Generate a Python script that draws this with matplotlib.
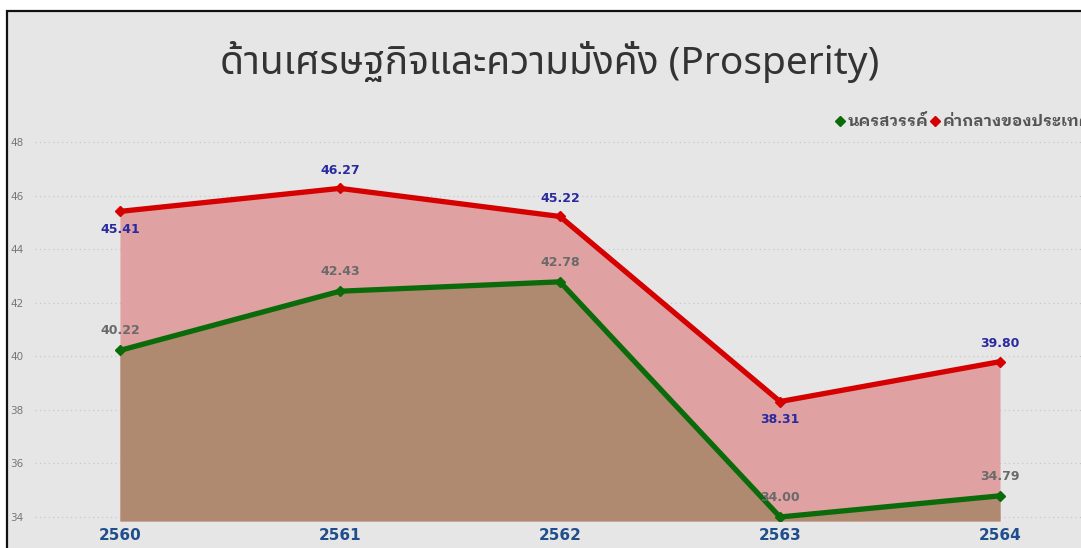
import matplotlib
matplotlib.use('Agg')
import matplotlib.pyplot as plt
from matplotlib.patches import Rectangle
from matplotlib.lines import Line2D

# data
years = ['2560', '2561', '2562', '2563', '2564']
nakhon_sawan = [40.22, 42.43, 42.78, 34.00, 34.79]
national_avg = [45.41, 46.27, 45.22, 38.31, 39.80]
# label above (+1) or below (-1) the point
nat_label_side = [-1, 1, 1, -1, 1]
ns_label_side = [1, 1, 1, 1, 1]
y_ticks = [34, 36, 38, 40, 42, 44, 46, 48]

title = 'ด้านเศรษฐกิจและความมั่งคั่ง (Prosperity)'
legend_labels = ['นครสวรรค์', 'ค่ากลางของประเทศ']

thai_title = ['Noto Sans Thai', 'Noto Sans', 'DejaVu Sans']
thai_small = ['IBM Plex Sans Thai Looped', 'Noto Sans', 'DejaVu Sans']

red = '#d50000'
green = '#0b6b0b'
red_fill = '#dfa1a1'
brown_fill = '#b08a70'
bg = '#e6e6e6'

fig = plt.figure(figsize=(10.81, 5.48), dpi=100)
fig.patch.set_facecolor('white')

# outer frame of the card
frame = Rectangle((7 / 1081, -0.1), 1.2, 1 - 11 / 548 + 0.1, transform=fig.transFigure,
                  facecolor=bg, edgecolor='#111111', linewidth=1.6, zorder=-5)
fig.patches.append(frame)

ax = fig.add_axes([35 / 1081, 27 / 548, 1 - 35 / 1081, (521 - 134) / 548])
ax.set_zorder(2)
ax.set_facecolor('none')
x = list(range(len(years)))
ymin = 33.85
ax.set_xlim(-0.386, 4.368)
ax.set_ylim(ymin, 48.3)

ax.fill_between(x, ymin, national_avg, color=red_fill, linewidth=0, zorder=1)
ax.fill_between(x, ymin, nakhon_sawan, color=brown_fill, linewidth=0, zorder=2)

ax.plot(x, national_avg, color=red, linewidth=3.8, marker='D', markersize=5,
        solid_joinstyle='miter', zorder=4)
ax.plot(x, nakhon_sawan, color=green, linewidth=3.8, marker='D', markersize=5,
        solid_joinstyle='miter', zorder=4)

for xi, v, s in zip(x, national_avg, nat_label_side):
    ax.annotate(f'{v:.2f}', (xi, v), xytext=(0, 13 * s), textcoords='offset points',
                ha='center', va='center', fontsize=9, fontweight='bold', color='#2a2aa0', zorder=5)
for xi, v, s in zip(x, nakhon_sawan, ns_label_side):
    ax.annotate(f'{v:.2f}', (xi, v), xytext=(0, 14 * s), textcoords='offset points',
                ha='center', va='center', fontsize=9, fontweight='bold', color='#6a6a6a', zorder=5)

ax.set_yticks(y_ticks)
ax.set_xticks(x)
ax.set_xticklabels(years)
ax.tick_params(axis='y', length=0, labelsize=7.5, labelcolor='#777777', pad=8)
ax.tick_params(axis='x', length=0, labelsize=11, labelcolor='#1f4e8c', pad=5)
for lab in ax.get_xticklabels():
    lab.set_fontweight('bold')
ax.grid(axis='y', linestyle=(0, (1, 3)), color='#c4c4c4', linewidth=0.8, zorder=0)
ax.grid(axis='x', visible=False)
ax.set_axisbelow(True)
for sp in ax.spines.values():
    sp.set_visible(False)

fig.text(550 / 1081, 1 - 62 / 548, title, ha='center', va='center', fontsize=28,
         color='#333333', family=thai_title)

# legend, runs off the right edge like the original
ly = 1 - 121 / 548
fig.add_artist(Line2D([840 / 1081], [ly], marker='D', markersize=5, color=green,
                      linestyle='none', transform=fig.transFigure))
fig.text(848 / 1081, ly, legend_labels[0], ha='left', va='center', fontsize=11.5,
         fontweight='bold', color='#555555', family=thai_small)
fig.add_artist(Line2D([935 / 1081], [ly], marker='D', markersize=5, color=red,
                      linestyle='none', transform=fig.transFigure))
fig.text(943 / 1081, ly, legend_labels[1], ha='left', va='center', fontsize=11.5,
         fontweight='bold', color='#555555', family=thai_small)

fig.savefig('out.png', dpi=100)
